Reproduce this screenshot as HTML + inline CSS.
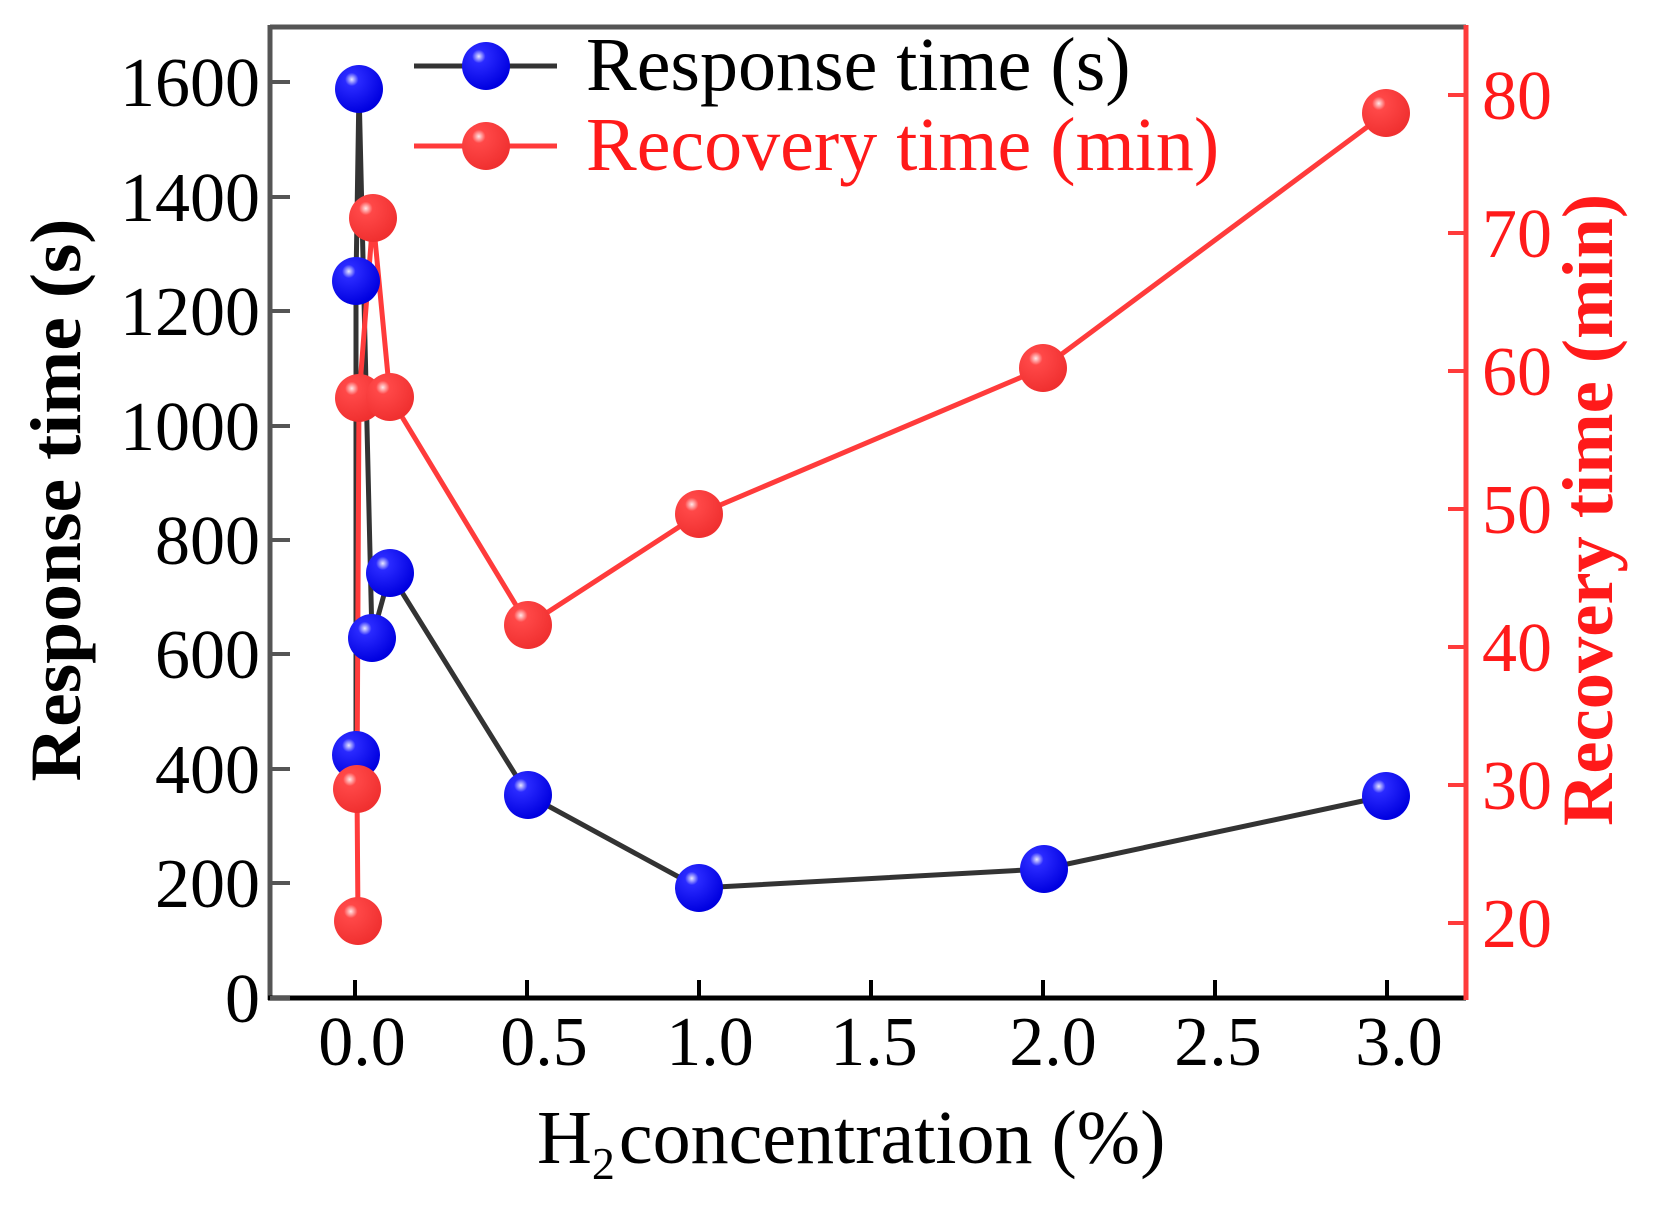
<!DOCTYPE html>
<html><head><meta charset="utf-8"><style>body{margin:0;background:#fff}svg{display:block}</style></head>
<body>
<svg width="1657" height="1207" viewBox="0 0 1657 1207" xmlns="http://www.w3.org/2000/svg" font-family="Liberation Serif, serif">
<defs>
<radialGradient id="gb" cx="0.35" cy="0.3" r="0.7"><stop offset="0" stop-color="#e8e8ff"/><stop offset="0.2" stop-color="#2a2aff"/><stop offset="1" stop-color="#0000e0"/></radialGradient>
<radialGradient id="gr" cx="0.35" cy="0.3" r="0.7"><stop offset="0" stop-color="#ffe8e8"/><stop offset="0.2" stop-color="#ff4848"/><stop offset="1" stop-color="#f03030"/></radialGradient>
</defs>
<line x1="270" y1="27" x2="1466" y2="27" stroke="#555" stroke-width="5"/>
<line x1="270" y1="25" x2="270" y2="1000" stroke="#555" stroke-width="5"/>
<line x1="268" y1="998" x2="1466" y2="998" stroke="#000" stroke-width="5"/>
<line x1="1466" y1="25" x2="1466" y2="1000" stroke="#ff3b3b" stroke-width="5"/>
<g stroke="#555" stroke-width="4">
<line x1="270" y1="998" x2="290" y2="998"/><line x1="270" y1="883" x2="290" y2="883"/><line x1="270" y1="769" x2="290" y2="769"/><line x1="270" y1="654" x2="290" y2="654"/><line x1="270" y1="540" x2="290" y2="540"/><line x1="270" y1="426" x2="290" y2="426"/><line x1="270" y1="311" x2="290" y2="311"/><line x1="270" y1="197" x2="290" y2="197"/><line x1="270" y1="82" x2="290" y2="82"/>
</g>
<g font-size="70" text-anchor="end" fill="#000">
<text x="260" y="1022">0</text><text x="260" y="907">200</text><text x="260" y="793">400</text><text x="260" y="678">600</text><text x="260" y="564">800</text><text x="260" y="450">1000</text><text x="260" y="335">1200</text><text x="260" y="221">1400</text><text x="260" y="106">1600</text>
</g>
<g stroke="#000" stroke-width="4">
<line x1="355" y1="998" x2="355" y2="980"/><line x1="527" y1="998" x2="527" y2="980"/><line x1="699" y1="998" x2="699" y2="980"/><line x1="871" y1="998" x2="871" y2="980"/><line x1="1043" y1="998" x2="1043" y2="980"/><line x1="1215" y1="998" x2="1215" y2="980"/><line x1="1387" y1="998" x2="1387" y2="980"/>
</g>
<g font-size="70" text-anchor="middle" fill="#000">
<text x="362" y="1065">0.0</text><text x="544" y="1065">0.5</text><text x="710" y="1065">1.0</text><text x="874" y="1065">1.5</text><text x="1053" y="1065">2.0</text><text x="1218" y="1065">2.5</text><text x="1399" y="1065">3.0</text>
</g>
<g stroke="#ff3b3b" stroke-width="4">
<line x1="1466" y1="95" x2="1448" y2="95"/><line x1="1466" y1="233" x2="1448" y2="233"/><line x1="1466" y1="371" x2="1448" y2="371"/><line x1="1466" y1="509" x2="1448" y2="509"/><line x1="1466" y1="647" x2="1448" y2="647"/><line x1="1466" y1="785" x2="1448" y2="785"/><line x1="1466" y1="923" x2="1448" y2="923"/>
</g>
<g font-size="70" fill="#ff1a1a">
<text x="1482" y="119">80</text><text x="1482" y="257">70</text><text x="1482" y="395">60</text><text x="1482" y="533">50</text><text x="1482" y="671">40</text><text x="1482" y="809">30</text><text x="1482" y="947">20</text>
</g>
<text transform="translate(80,500) rotate(-90)" font-size="72" font-weight="bold" text-anchor="middle" fill="#000" textLength="563" lengthAdjust="spacingAndGlyphs">Response time (s)</text>
<text transform="translate(1612,510) rotate(-90)" font-size="72" font-weight="bold" text-anchor="middle" fill="#ff1a1a" textLength="632" lengthAdjust="spacingAndGlyphs">Recovery time (min)</text>
<text x="537" y="1163" font-size="76" fill="#000">H<tspan font-size="46" dy="16">2</tspan><tspan dy="-16" dx="4">concentration (%)</tspan></text>
<polyline fill="none" stroke="#333" stroke-width="5" points="356,755 356,281 359,89 372,638 390,573 528,795 699,888 1044,869 1386,796"/>
<polyline fill="none" stroke="#ff3b3b" stroke-width="5" points="358,921 357,789 359,398 373,218 390,397 528,625 699,514 1043,368 1386,113"/>
<g fill="url(#gb)">
<circle cx="356" cy="755" r="24"/><circle cx="356" cy="281" r="24"/><circle cx="359" cy="89" r="24"/><circle cx="372" cy="638" r="24"/><circle cx="390" cy="573" r="24"/><circle cx="528" cy="795" r="24"/><circle cx="699" cy="888" r="24"/><circle cx="1044" cy="869" r="24"/><circle cx="1386" cy="796" r="24"/>
</g>
<g fill="url(#gr)">
<circle cx="358" cy="921" r="24"/><circle cx="357" cy="789" r="24"/><circle cx="359" cy="398" r="24"/><circle cx="373" cy="218" r="24"/><circle cx="390" cy="397" r="24"/><circle cx="528" cy="625" r="24"/><circle cx="699" cy="514" r="24"/><circle cx="1043" cy="368" r="24"/><circle cx="1386" cy="113" r="24"/>
</g>
<line x1="414" y1="66" x2="557" y2="66" stroke="#333" stroke-width="5"/>
<circle cx="486" cy="66" r="24" fill="url(#gb)"/>
<text x="586" y="90" font-size="76" fill="#000">Response time (s)</text>
<line x1="414" y1="146" x2="557" y2="146" stroke="#ff3b3b" stroke-width="5"/>
<circle cx="486" cy="146" r="24" fill="url(#gr)"/>
<text x="586" y="170" font-size="76" fill="#ff1a1a">Recovery time (min)</text>
</svg>
</body></html>
